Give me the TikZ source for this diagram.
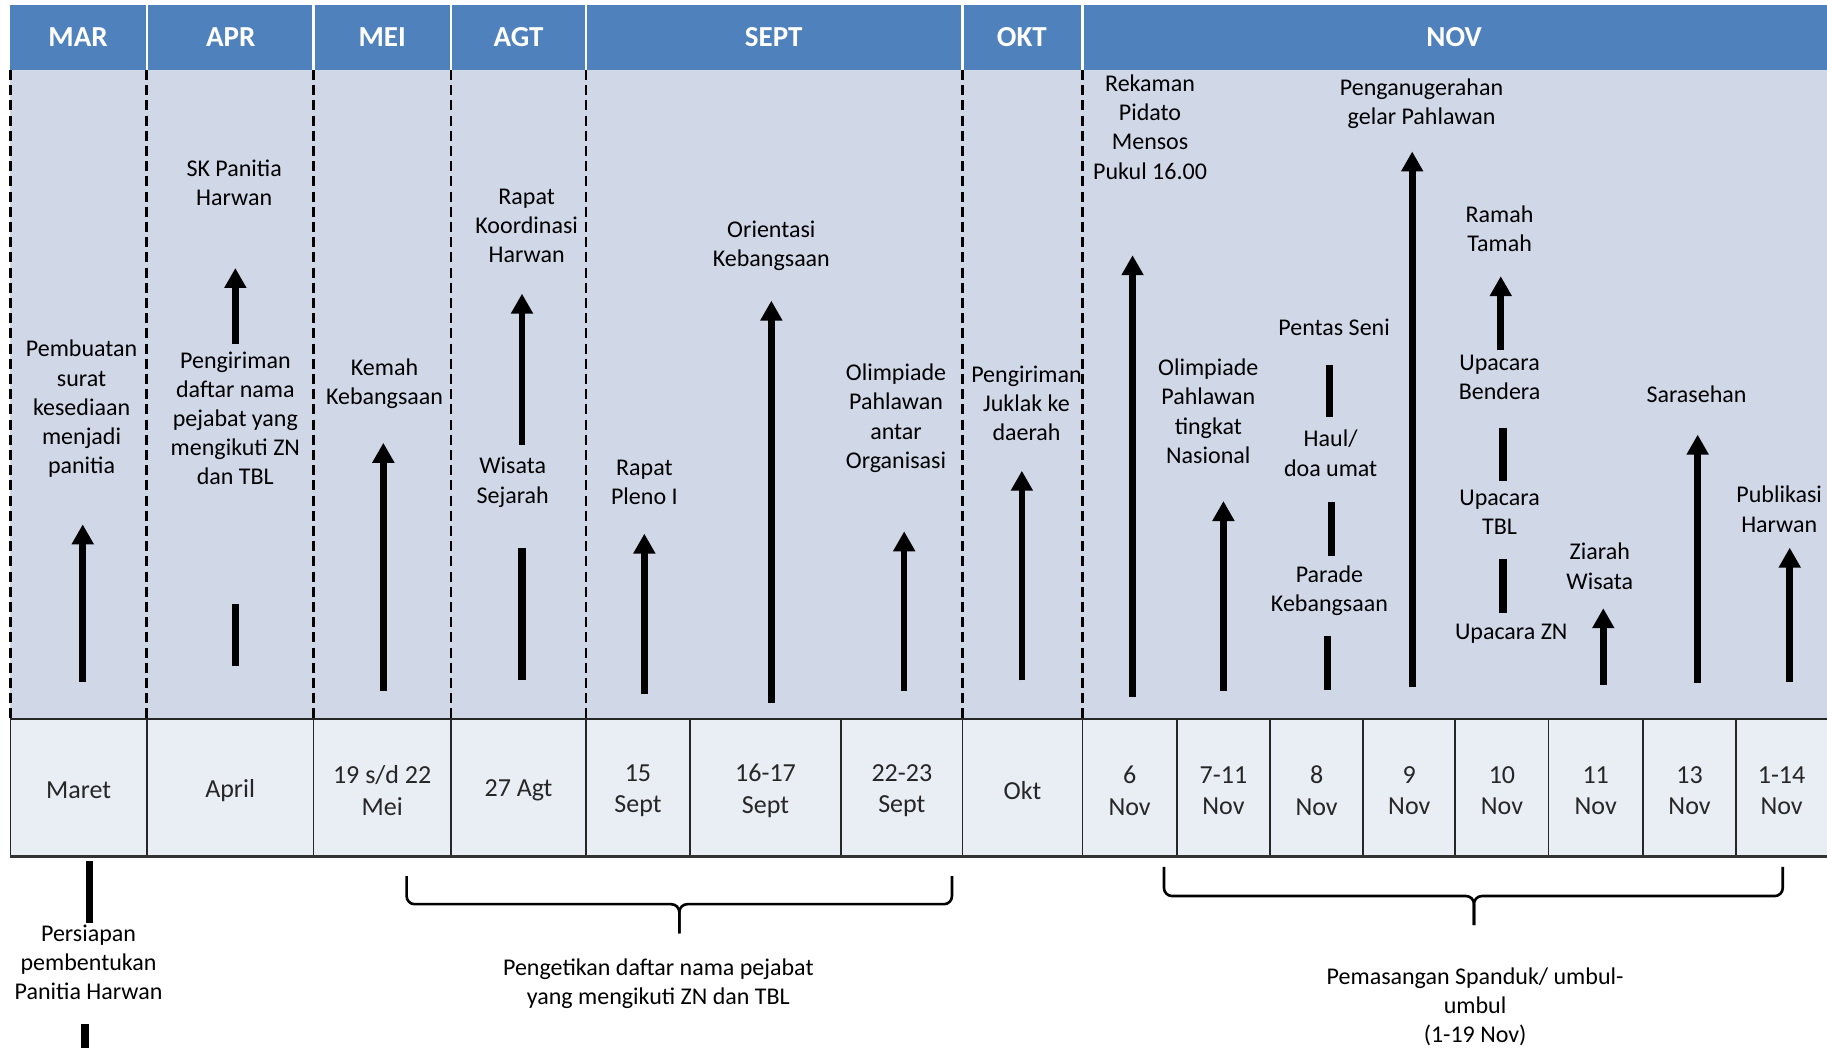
\documentclass[tikz,border=0pt]{standalone}
\usepackage{fontspec}
\setmainfont{Carlito}
\usetikzlibrary{arrows.meta}
\definecolor{hdr}{HTML}{4F81BD}
\definecolor{bodybg}{HTML}{D0D8E8}
\definecolor{cellbg}{HTML}{E9EDF4}
\begin{document}
\begin{tikzpicture}[x=0.5826pt,y=-0.5826pt,
  lbl/.style={align=center, font=\fontsize{12}{14.6}\selectfont, inner sep=0pt},
  hd/.style={font=\fontsize{14.5}{17}\selectfont\bfseries, text=white, inner sep=0pt},
  cell/.style={align=center, font=\fontsize{13}{15.8}\selectfont, inner sep=0pt, text=black!85},
  up/.style={line width=3.3pt, -{Triangle[width=10.5pt,length=10pt]}},
  bar/.style={line width=3.6pt},
  sep/.style={black, dash pattern=on 5pt off 2.6pt, line width=1.4pt},
  brc/.style={line width=1.3pt, rounded corners=4pt},
]
\useasboundingbox (0,0) rectangle (1568,899.4);
% header
\fill[hdr] (9,4) rectangle (1568,60);
\foreach \x in {126,269,387,503,826,929} \draw[white, line width=1.2pt] (\x,4) -- (\x,60);
\foreach \n/\x/\t in {h1/67/MAR, h2/198/APR, h3/328/MEI, h4/445/AGT, h5/664/SEPT, h6/877/OKT, h7/1248/NOV}
  \node[hd] (\n) at (\x,32) {\t};
% body
\fill[bodybg] (9,60) rectangle (1568,617);
\foreach \x in {9,126,269,387,503,826,929} \draw[sep] (\x,60) -- (\x,617);
% table
\foreach \n/\a/\b/\t in {c1/9/126/Maret, c2/126/269/April, c3/269/387/{19 s/d 22\\Mei}, c4/387/503/27 Agt,
  c5/503/592/{15\\Sept}, c6/592/722/{16-17\\Sept}, c7/722/826/{22-23\\Sept}, c8/826/929/Okt,
  c9/929/1010/{6\\Nov}, c10/1010/1090/{7-11\\Nov}, c11/1090/1170/{8\\Nov}, c12/1170/1249/{9\\Nov},
  c13/1249/1329/{10\\Nov}, c14/1329/1410/{11\\Nov}, c15/1410/1490/{13\\Nov}, c16/1490/1568/{1-14\\Nov}}
{
  \fill[cellbg] (\a,617) rectangle (\b,735);
  \node[cell] (\n) at ({(\a+\b)/2},678.5) {\t};
}
\foreach \x in {9,126,269,387,503,592,722,826,929,1010,1090,1170,1249,1329,1410,1490}
  \draw[line width=0.9pt, black!85] (\x,617) -- (\x,735);
\draw[line width=0.9pt, black!85] (9,617) -- (1568,617);
\draw[line width=1.5pt, black!80] (9,735) -- (1568,735);
% labels
\node[lbl] (t1) at (70,351) {Pembuatan\\surat\\kesediaan\\menjadi\\panitia};
\node[lbl] (t2) at (201,157) {SK Panitia\\Harwan};
\node[lbl] (t3) at (202,359) {Pengiriman\\daftar nama\\pejabat yang\\mengikuti ZN\\dan TBL};
\node[lbl] (t4) at (330,329) {Kemah\\Kebangsaan};
\node[lbl] (t5) at (452,194) {Rapat\\Koordinasi\\Harwan};
\node[lbl] (t6) at (440,414) {Wisata\\Sejarah};
\node[lbl] (t7) at (553,414) {Rapat\\Pleno I};
\node[lbl] (t8) at (662,211) {Orientasi\\Kebangsaan};
\node[lbl] (t9) at (769,359) {Olimpiade\\Pahlawan\\antar\\Organisasi};
\node[lbl] (t10) at (881,346) {Pengiriman\\Juklak ke\\daerah};
\node[lbl] (t11) at (987,109) {Rekaman\\Pidato\\Mensos\\Pukul 16.00};
\node[lbl] (t12) at (1037,353) {Olimpiade\\Pahlawan\\tingkat\\Nasional};
\node[lbl] (t13) at (1145,281) {Pentas Seni};
\node[lbl] (t14) at (1142,389) {Haul/\\doa umat};
\node[lbl] (t15) at (1141,507) {Parade\\Kebangsaan};
\node[lbl] (t16) at (1220,89) {Penganugerahan\\gelar Pahlawan};
\node[lbl] (t17) at (1287,196) {Ramah\\Tamah};
\node[lbl] (t18) at (1287,324) {Upacara\\Bendera};
\node[lbl] (t19) at (1287,440) {Upacara\\TBL};
\node[lbl] (t20) at (1297,544) {Upacara ZN};
\node[lbl] (t21) at (1373,486) {Ziarah\\Wisata};
\node[lbl] (t22) at (1456,338) {Sarasehan};
\node[lbl] (t23) at (1527,437) {Publikasi\\Harwan};
\node[lbl] (b1) at (76,826) {Persiapan\\pembentukan\\Panitia Harwan};
\node[lbl] (b2) at (565,844) {Pengetikan daftar nama pejabat\\yang mengikuti ZN dan TBL};
\node[lbl] (b3) at (1266,864) {Pemasangan Spanduk/ umbul-\\umbul\\(1-19 Nov)};
% arrows
\foreach \n/\x/\b/\t in {a1/71/585/450, a2/202/295/230, a3/329/593/380, a4/448/382/252,
  a5/553/596/458, a6/662/603/258, a7/776/593/456, a8/877/584/404, a9/972/598/219,
  a10/1050/593/430, a11/1212/590/130, a12/1288/300/237, a13/1376/588/522,
  a14/1457/586/373, a15/1536/585/470}
{
  \coordinate (\n-s) at (\x,\b);
  \coordinate (\n-e) at (\x,\t);
  \draw[up] (\n-s) -- (\n-e);
}
% bars
\foreach \n/\x/\t/\b in {r1/202/518/572, r2/448/470/584, r3/1141/313/358, r4/1143/431/477,
  r5/1139/546/592, r6/1290/367/413, r7/1290/480/526, r8/77/739/792, r9/73/879/902}
{
  \coordinate (\n-s) at (\x,\t);
  \coordinate (\n-e) at (\x,\b);
  \draw[bar] (\n-s) -- (\n-e);
}
% braces
\coordinate (k1l) at (349,752);
\coordinate (k1r) at (817,752);
\coordinate (k1m) at (583,776);
\coordinate (k1p) at (583,801);
\draw[brc] (k1l) |- (k1m) -- (k1p);
\draw[brc] (k1r) |- (k1m) -- (k1p);
\coordinate (k2l) at (999,744);
\coordinate (k2r) at (1530,744);
\coordinate (k2m) at (1265,769);
\coordinate (k2p) at (1265,794);
\draw[brc] (k2l) |- (k2m) -- (k2p);
\draw[brc] (k2r) |- (k2m) -- (k2p);
\end{tikzpicture}
\end{document}
